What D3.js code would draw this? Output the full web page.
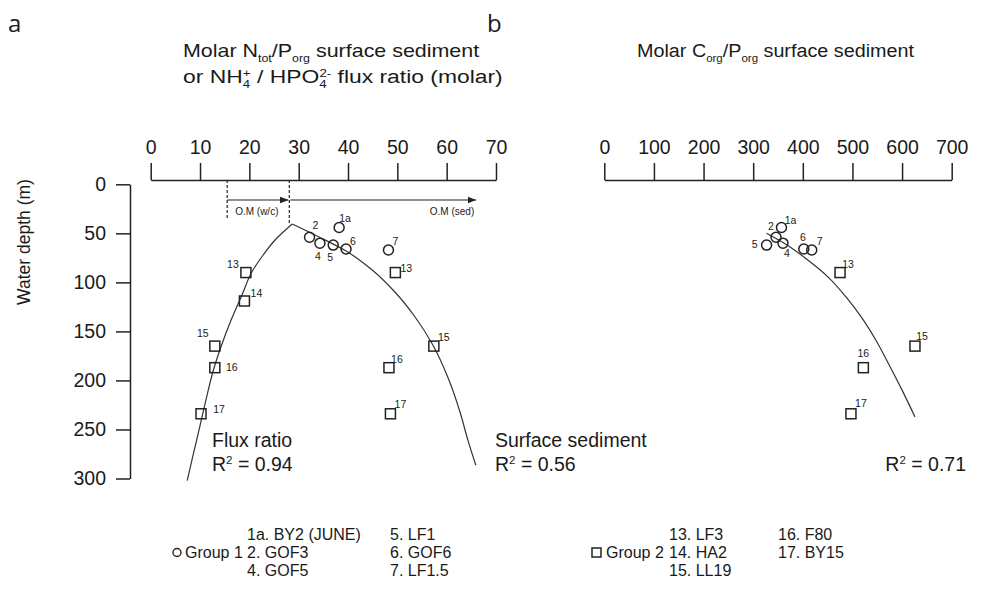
<!DOCTYPE html>
<html>
<head>
<meta charset="utf-8">
<script src="https://cdn.jsdelivr.net/npm/d3@7"></script>
<style>
  body { margin: 0; background: #fff; }
  text { font-family: "Liberation Sans", Arial, sans-serif; fill: #1a1a1a; }
</style>
</head>
<body>
<svg id="chart" width="989" height="600"></svg>
<script>
// group 1 stations (circles)
const stations1 = ["1a", "2", "4", "5", "6", "7"];
const depth1 = [44, 54, 60, 62, 66, 67];
const sedNP1 = [38.2, 32.2, 34.3, 37.0, 39.6, 48.2];
const sedCP1 = [357, 346, 360, 327, 402, 418];

// group 2 stations (squares)
const stations2 = ["13", "14", "15", "16", "17"];
const depth2 = [90, 119, 165, 187, 234];
const fluxNP2 = [19.3, 19.0, 13.0, 13.0, 10.2];
const sedNP2 = [49.6, null, 57.4, 48.3, 48.6];
const sedCP2 = [475, null, 626, 522, 497];

// fitted curves
const fluxFitX = [28.7, 25.4, 22.8, 20.5, 18.5, 16.3, 14.3, 12.6, 11.2, 9.8, 8.6, 7.4];
const fluxFitDepth = [40.5, 55.8, 72.1, 89.4, 112.9, 138.4, 164.9, 191.4, 219.9, 250.5, 276.0, 302.2];
const sedFitX = [28.7, 34.1, 39.6, 44.9, 49.5, 53.6, 57.2, 60.3, 62.7, 64.3, 65.9];
const sedFitDepth = [40.5, 53.7, 68.0, 87.4, 109.8, 135.3, 163.9, 197.6, 232.2, 260.8, 286.3];
const cpFitX = [327, 368, 410, 451, 487, 519, 547, 574, 600, 626];
const cpFitDepth = [50.0, 61.9, 77.2, 94.6, 114.9, 136.3, 158.8, 184.3, 209.9, 237.2];

// O.M arrows (x in N/P units)
const omBounds = [15.5, 28.1, 66];

const npTicks = [0, 10, 20, 30, 40, 50, 60, 70];
const cpTicks = [0, 100, 200, 300, 400, 500, 600, 700];
const depthTicks = [0, 50, 100, 150, 200, 250, 300];

const legend1 = ["1a. BY2 (JUNE)", "2. GOF3", "4. GOF5", "5. LF1", "6. GOF6", "7. LF1.5"];
const legend2 = ["13. LF3", "14. HA2", "15. LL19", "16. F80", "17. BY15"];

// label offsets in px, [dx, dy]
const offA1 = {"1a": [6, -9], "2": [6, -12], "4": [-2, 13], "5": [-3, 12], "6": [7, -8], "7": [7, -9]};
const offAflux = {"13": [-13, -9], "14": [12, -8], "15": [-12, -13], "16": [17, -1], "17": [18, -5]};
const offAsed = {"13": [11, -5], "15": [10, -9], "16": [8, -9], "17": [10, -10]};
const offB1 = {"1a": [9, -7], "2": [-5, -11], "4": [4, 10], "5": [-12, -1], "6": [-1, -12], "7": [8, -9]};
const offB2 = {"13": [8, -9], "15": [7, -10], "16": [0, -15], "17": [10, -11]};

const ink = "#222";
const svg = d3.select("#chart");

const y = d3.scaleLinear().domain([0, 300]).range([184.3, 478.5]);
const xa = d3.scaleLinear().domain([0, 70]).range([150.7, 496]);
const xb = d3.scaleLinear().domain([0, 700]).range([604.3, 951.7]);

function styleAxis(g) {
    g.selectAll("path, line").attr("stroke", ink).attr("stroke-width", 1.5);
    g.selectAll("text").attr("font-size", 19.5).attr("fill", "#1a1a1a")
        .attr("font-family", "Liberation Sans, Arial, sans-serif");
}

// top axes
svg.append("g").attr("transform", "translate(0,180)")
    .call(d3.axisTop(xa).tickValues(npTicks).tickSize(17).tickSizeOuter(0).tickPadding(9))
    .call(styleAxis);
svg.append("g").attr("transform", "translate(0,180)")
    .call(d3.axisTop(xb).tickValues(cpTicks).tickSize(17).tickSizeOuter(0).tickPadding(9))
    .call(styleAxis);

// depth axis
svg.append("g").attr("transform", "translate(130,0)")
    .call(d3.axisLeft(y).tickValues(depthTicks).tickSize(14).tickSizeOuter(0).tickPadding(10))
    .call(styleAxis);

svg.append("text")
    .attr("transform", "translate(30,242) rotate(-90)")
    .attr("text-anchor", "middle").attr("font-size", 17.5)
    .text("Water depth (m)");

// panel letters
svg.append("text").attr("x", 8).attr("y", 32).attr("font-size", 24)
    .style("font-family", "Open Sans, sans-serif").text("a");
svg.append("text").attr("x", 487).attr("y", 32).attr("font-size", 24)
    .style("font-family", "Open Sans, sans-serif").text("b");

// titles with sub/superscripts, stretched to the width seen in the figure
function richText(x, yy, parts, size, width) {
    const g = svg.append("g");
    const t = g.append("text").attr("font-size", size);
    let shift = 0;
    parts.forEach(p => {
        const want = p[1] === "sub" ? 5 : p[1] === "sup" ? -6 : 0;
        t.append("tspan")
            .attr("dy", want - shift)
            .attr("dx", p[2] || 0)
            .attr("font-size", p[1] ? size * 0.58 : size)
            .text(p[0]);
        shift = want;
    });
    const w = t.node().getBBox().width;
    g.attr("transform", `translate(${x},${yy}) scale(${width / w},1)`);
}
richText(183, 57, [["Molar N"], ["tot", "sub"], ["/P"], ["org", "sub"], [" surface sediment"]], 19, 297);
richText(183, 83, [["or NH"], ["4", "sub"], ["+", "sup", -6], [" / HPO"], ["4", "sub"], ["2-", "sup", -6], [" flux ratio (molar)"]], 19, 320);
richText(637, 57, [["Molar C"], ["org", "sub"], ["/P"], ["org", "sub"], [" surface sediment"]], 19, 278);

// O.M arrows
svg.append("defs").append("marker")
    .attr("id", "head").attr("viewBox", "0 0 10 10")
    .attr("refX", 10).attr("refY", 5)
    .attr("markerWidth", 7).attr("markerHeight", 7).attr("orient", "auto")
    .append("path").attr("d", "M0,1 L10,5 L0,9 Z").attr("fill", ink);

[[omBounds[0], 220], [omBounds[1], 224]].forEach(d => {
    svg.append("line")
        .attr("x1", xa(d[0])).attr("x2", xa(d[0]))
        .attr("y1", 180).attr("y2", d[1])
        .attr("stroke", ink).attr("stroke-width", 1.2).attr("stroke-dasharray", "3,2");
});
svg.append("line").attr("x1", xa(omBounds[0])).attr("x2", xa(omBounds[1]) - 1)
    .attr("y1", 200).attr("y2", 200).attr("stroke", ink).attr("stroke-width", 1.2)
    .attr("marker-end", "url(#head)");
svg.append("line").attr("x1", xa(omBounds[1]) + 1).attr("x2", xa(omBounds[2]))
    .attr("y1", 200).attr("y2", 200).attr("stroke", ink).attr("stroke-width", 1.2)
    .attr("marker-end", "url(#head)");
svg.append("text").attr("x", xa(omBounds[0]) + 8).attr("y", 215)
    .attr("font-size", 10).text("O.M (w/c)");
svg.append("text").attr("x", xa(omBounds[2]) - 2).attr("y", 215)
    .attr("text-anchor", "end").attr("font-size", 10).text("O.M (sed)");

// fitted curves
const line = d3.line().curve(d3.curveMonotoneY);
function drawFit(xs, ds, xScale) {
    svg.append("path")
        .attr("d", line(xs.map((v, i) => [xScale(v), y(ds[i])])))
        .attr("fill", "none").attr("stroke", "#333").attr("stroke-width", 1.2);
}
drawFit(fluxFitX, fluxFitDepth, xa);
drawFit(sedFitX, sedFitDepth, xa);
drawFit(cpFitX, cpFitDepth, xb);

// markers
function drawPoints(names, xs, ds, xScale, shape, offsets) {
    names.forEach((n, i) => {
        if (xs[i] == null) return;
        const cx = xScale(xs[i]), cy = y(ds[i]);
        if (shape === "circle") {
            svg.append("circle").attr("cx", cx).attr("cy", cy).attr("r", 5)
                .attr("fill", "none").attr("stroke", ink).attr("stroke-width", 1.5);
        } else {
            svg.append("rect").attr("x", cx - 5).attr("y", cy - 5)
                .attr("width", 10).attr("height", 10)
                .attr("fill", "none").attr("stroke", ink).attr("stroke-width", 1.5);
        }
        const o = offsets[n];
        if (o) {
            svg.append("text").attr("x", cx + o[0]).attr("y", cy + o[1])
                .attr("text-anchor", "middle").attr("dominant-baseline", "central")
                .attr("font-size", 10.5).text(n);
        }
    });
}
drawPoints(stations1, sedNP1, depth1, xa, "circle", offA1);
drawPoints(stations2, fluxNP2, depth2, xa, "square", offAflux);
drawPoints(stations2, sedNP2, depth2, xa, "square", offAsed);
drawPoints(stations1, sedCP1, depth1, xb, "circle", offB1);
drawPoints(stations2, sedCP2, depth2, xb, "square", offB2);

// fit annotations
function rsq(x, yy, value, anchor) {
    const t = svg.append("text").attr("x", x).attr("y", yy).attr("font-size", 19.5)
        .attr("text-anchor", anchor || "start");
    t.append("tspan").text("R");
    t.append("tspan").attr("dy", -7).attr("font-size", 11.5).text("2");
    t.append("tspan").attr("dy", 7).text(" = " + value);
}
svg.append("text").attr("x", 212).attr("y", 447).attr("font-size", 19.5).text("Flux ratio");
rsq(212, 471, "0.94");
svg.append("text").attr("x", 495).attr("y", 447).attr("font-size", 19.5).text("Surface sediment");
rsq(495, 471, "0.56");
rsq(966, 471, "0.71", "end");

// legend
const lg = svg.append("g").attr("font-size", 16);
const rows = [540, 558, 576];
lg.append("circle").attr("cx", 177).attr("cy", 552.5).attr("r", 4)
    .attr("fill", "none").attr("stroke", ink).attr("stroke-width", 1.4);
lg.append("text").attr("x", 185).attr("y", rows[1]).text("Group 1");
legend1.forEach((s, i) => {
    lg.append("text").attr("x", i < 3 ? 247 : 390).attr("y", rows[i % 3]).text(s);
});
lg.append("rect").attr("x", 592).attr("y", 548).attr("width", 9).attr("height", 9)
    .attr("fill", "none").attr("stroke", ink).attr("stroke-width", 1.5);
lg.append("text").attr("x", 606).attr("y", rows[1]).text("Group 2");
legend2.forEach((s, i) => {
    lg.append("text").attr("x", i < 3 ? 669 : 778).attr("y", rows[i % 3]).text(s);
});
</script>
</body>
</html>
